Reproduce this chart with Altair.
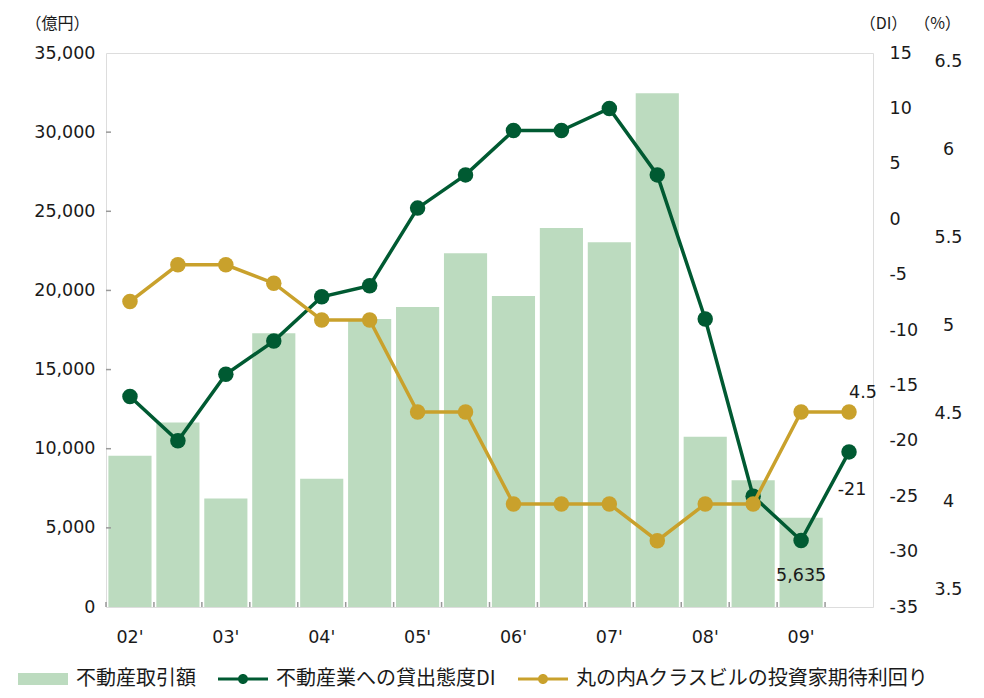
import altair as alt
import pandas as pd

# ---- data ----
cats = ["02'-1", "02'-2", "03'-1", "03'-2", "04'-1", "04'-2", "05'-1", "05'-2",
        "06'-1", "06'-2", "07'-1", "07'-2", "08'-1", "08'-2", "09'-1", "09'-2"]
volume = [9550, 11650, 6850, 17300, 8100, 18200, 18950, 22350,
          19650, 23950, 23050, 32450, 10750, 8000, 5635]
di = [-16, -20, -14, -11, -7, -6, 1, 4, 8, 8, 10, 4, -9, -25, -29, -21]
yld = [5.1, 5.3, 5.3, 5.2, 5.0, 5.0, 4.5, 4.5, 4.0, 4.0, 4.0, 3.8, 4.0, 4.0, 4.5, 4.5]
left_ticks = [0, 5000, 10000, 15000, 20000, 25000, 30000, 35000]
inner_left_ticks = [5000, 10000, 15000, 20000, 25000, 30000]
di_ticks = [-35, -30, -25, -20, -15, -10, -5, 0, 5, 10, 15]
pct_ticks = [3.5, 4.0, 4.5, 5.0, 5.5, 6.0, 6.5]
series = ["不動産取引額", "不動産業への貸出態度DI", "丸の内Aクラスビルの投資家期待利回り"]

BAR_C = "#bcdbbf"
DI_C = "#005a32"
GOLD_C = "#c9a12c"
GRAY = "#999999"
TXT = "#1a1a1a"
NUMF = "DejaVu Sans"
CJK = "Noto Sans CJK JP"
FS = 17.5
TFS = 16
TY = -30

bar_df = pd.DataFrame({"cat": cats[:len(volume)], "v": volume})
line_df = pd.DataFrame({"cat": cats, "di": di, "y": yld})
cat_df = pd.DataFrame({"cat": cats})
lt_df = pd.DataFrame({"t": inner_left_ticks})
pct_df = pd.DataFrame({"p": pct_ticks})
leg_df = pd.DataFrame({"s": series})

x_axis = alt.Axis(title=None, ticks=False, tickSize=0, domain=False, grid=False,
                  labelAngle=0, labelPadding=21, labelFont=NUMF, labelFontSize=FS,
                  labelColor=TXT,
                  labelExpr="indexof(datum.value, '-1') >= 0 ? split(datum.value, '-')[0] : ''")
x_scale = alt.Scale(domain=cats, paddingInner=0, paddingOuter=0)


def X(**kw):
    return alt.X("cat:N", sort=cats, scale=x_scale, axis=x_axis, **kw)


left_axis = alt.Axis(orient="left", values=left_ticks, format=",.0f", ticks=False, tickSize=0,
                     domain=False, grid=False, labelPadding=11, labelFont=NUMF,
                     labelFontSize=FS, labelColor=TXT,
                     title="（億円）", titleAngle=0, titleX=-49, titleY=TY,
                     titleAlign="center", titleBaseline="middle", titleFont=CJK,
                     titleFontSize=TFS, titleFontWeight="normal", titleColor=TXT)
left_scale = alt.Scale(domain=[0, 35000], nice=False, zero=True)

bars = alt.Chart(bar_df).mark_bar(color=BAR_C, width=alt.RelativeBandSize(0.9)).encode(
    x=X(), y=alt.Y("v:Q", scale=left_scale, axis=left_axis))

xticks = alt.Chart(cat_df).mark_rule(color=GRAY, strokeWidth=1.5).encode(
    x=X(bandPosition=0), y=alt.value(549), y2=alt.value(554))

yticks = alt.Chart(lt_df).mark_rule(color=GRAY, strokeWidth=1.5).encode(
    y=alt.Y("t:Q", scale=left_scale, axis=left_axis), x=alt.value(0), x2=alt.value(5))

bar_label = alt.Chart(bar_df).transform_filter(
    alt.datum.cat == cats[len(volume) - 1]
).mark_text(font=NUMF, fontSize=FS, color=TXT, dy=58, align="center", baseline="middle").encode(
    x=X(), y=alt.Y("v:Q", scale=left_scale, axis=left_axis), text=alt.Text("v:Q", format=",.0f"))

bar_group = alt.layer(bars, xticks, yticks, bar_label)

di_axis = alt.Axis(orient="right", values=di_ticks, ticks=False, tickSize=0, domain=False,
                   grid=False, labelAlign="left", labelPadding=16, labelFont=NUMF,
                   labelFontSize=FS, labelColor=TXT, labelExpr="toString(datum.value)",
                   title="（DI）", titleAngle=0, titleX=10, titleY=TY, titleAlign="center",
                   titleBaseline="middle", titleFont=CJK, titleFontSize=TFS,
                   titleFontWeight="normal", titleColor=TXT)
di_scale = alt.Scale(domain=[-35, 15], nice=False, zero=False)

di_line = alt.Chart(line_df).mark_line(
    color=DI_C, strokeWidth=3.5,
    point=alt.OverlayMarkDef(filled=True, size=240, color=DI_C, opacity=1)
).encode(x=X(), y=alt.Y("di:Q", scale=di_scale, axis=di_axis))

di_label = alt.Chart(line_df).transform_filter(
    alt.datum.cat == cats[-1]
).transform_calculate(
    lbl="toString(datum.di)"
).mark_text(font=NUMF, fontSize=FS, color=TXT, dy=38, dx=3, align="center", baseline="middle").encode(
    x=X(), y=alt.Y("di:Q", scale=di_scale, axis=di_axis), text="lbl:N")

di_group = alt.layer(di_line, di_label)

gold_scale = alt.Scale(domain=[3.44, 6.451], nice=False, zero=False)
gold_line = alt.Chart(line_df).mark_line(
    color=GOLD_C, strokeWidth=3.5,
    point=alt.OverlayMarkDef(filled=True, size=240, color=GOLD_C, opacity=1)
).encode(x=X(), y=alt.Y("y:Q", scale=gold_scale, axis=None))

gold_label = alt.Chart(line_df).transform_filter(
    alt.datum.cat == cats[-1]
).mark_text(font=NUMF, fontSize=FS, color=TXT, dy=-19, dx=14, align="center", baseline="middle").encode(
    x=X(), y=alt.Y("y:Q", scale=gold_scale, axis=None), text=alt.Text("y:Q", format=".1f"))

gold_group = alt.layer(gold_line, gold_label)

pct_axis = alt.Axis(orient="right", values=pct_ticks, format=".1~f", ticks=False, tickSize=0,
                    domain=False, grid=False, labelAlign="center", labelPadding=75,
                    labelFont=NUMF, labelFontSize=FS, labelColor=TXT,
                    title="（%）", titleAngle=0, titleX=64, titleY=TY, titleAlign="center",
                    titleBaseline="middle", titleFont=CJK, titleFontSize=TFS,
                    titleFontWeight="normal", titleColor=TXT)
pct_layer = alt.Chart(pct_df).mark_point(opacity=0).encode(
    y=alt.Y("p:Q", scale=alt.Scale(domain=[3.402, 6.549], nice=False, zero=False), axis=pct_axis))

bar_path = "M-1,-0.24H1V0.24H-1Z"
line_path = ("M-1,-0.06H1V0.06H-1Z "
             "M-0.2,0A0.2,0.2 0 1,1 0.2,0A0.2,0.2 0 1,1 -0.2,0Z")
legend = alt.Legend(title=None, orient="none", legendX=-88, legendY=601,
                    direction="horizontal", labelFont=CJK, labelFontSize=20,
                    labelColor=TXT, symbolSize=2500, symbolStrokeWidth=0,
                    symbolOpacity=1, labelOffset=8, columnPadding=22,
                    labelLimit=600, padding=0)
legend_layer = alt.Chart(leg_df).transform_filter("false").mark_point(filled=True).encode(
    color=alt.Color("s:N", scale=alt.Scale(domain=series, range=[BAR_C, DI_C, GOLD_C]),
                    legend=legend),
    shape=alt.Shape("s:N", scale=alt.Scale(domain=series, range=[bar_path, line_path, line_path]),
                    legend=legend))

chart = alt.layer(bar_group, di_group, gold_group, pct_layer, legend_layer).resolve_scale(
    y="independent"
).properties(
    width=767, height=554,
    padding={"left": 98, "top": 45, "right": 103, "bottom": 83},
    autosize=alt.AutoSizeParams(type="none"),
).configure_view(stroke=GRAY, strokeWidth=2).configure(background="white")

chart.save("out.html", embed_options={"renderer": "svg", "actions": False})
